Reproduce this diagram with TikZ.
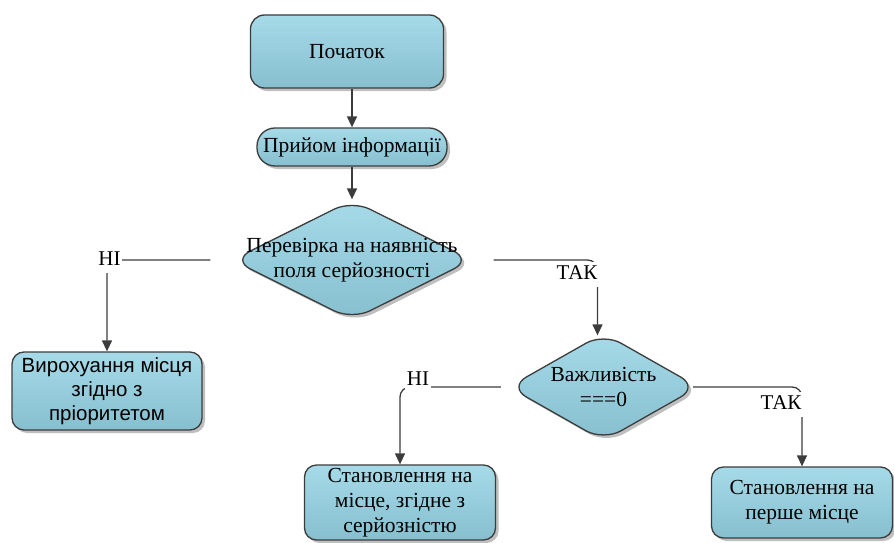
\documentclass[tikz,border=0pt]{standalone}
\usepackage{fontspec}
\setmainfont{Liberation Serif}
\newfontfamily\sansf{Liberation Sans}
\usetikzlibrary{shapes.geometric,shadows,arrows.meta}
\definecolor{boxtop}{HTML}{A6DAE8}
\definecolor{boxbot}{HTML}{86BFCF}
\definecolor{edgec}{HTML}{3C3C3C}
\begin{document}
\begin{tikzpicture}[x=1pt,y=-1pt,
 base/.style={draw=edgec, line width=1.3pt, top color=boxtop, bottom color=boxbot,
   drop shadow={shadow xshift=3pt, shadow yshift=-3pt, fill=black, opacity=0.25}, inner sep=0pt},
 box/.style={base, rectangle, rounded corners=14pt, align=center, font=\rmfamily\fontsize{21.5}{25}\selectfont},
 dia/.style={base, diamond, rounded corners=20pt},
 txt/.style={align=center, font=\rmfamily\fontsize{21.5}{25.5}\selectfont},
 lbl/.style={fill=white, inner xsep=1.5pt, inner ysep=2pt, text height=15pt, text depth=6pt, anchor=base, font=\rmfamily\fontsize{21}{22}\selectfont},
 conn/.style={draw=edgec, line width=1.3pt, rounded corners=10pt},
 arr/.style={conn, -{Triangle[length=11pt,width=10pt]}},
]
\useasboundingbox (0,0) rectangle (894,543);

% boxes
\node[box, minimum width=193pt, minimum height=73pt] (start) at (347,51.5) {Початок};
\node[box, rounded corners=18pt, minimum width=190pt, minimum height=38pt] (recv) at (352,147) {Прийом інформації};
\node[dia, minimum width=240pt, minimum height=120pt] (d1) at (352,260) {};
\node[txt] (d1t) at (d1.center) {Перевірка на наявність\\поля серйозності};
\node[box, rounded corners=12pt, minimum width=190pt, minimum height=78pt, font=\sansf\fontsize{20.5}{24}\selectfont] (b1) at (107,391) {Вирохуання місця\\згідно з\\пріоритетом};
\node[dia, minimum width=190pt, minimum height=108pt] (d2) at (603.5,387) {};
\node[txt] (d2t) at (d2.center) {Важливість\\===0};
\node[box, rounded corners=12pt, minimum width=191pt, minimum height=75pt] (b2) at (400,502.5) {Становлення на\\місце, згідне з\\серйозністю};
\node[box, rounded corners=12pt, minimum width=181pt, minimum height=71pt] (b3) at (802,502.5) {Становлення на\\перше місце};
\coordinate (d2n) at ([xshift=-6pt,yshift=-3pt]d2.north);

% connectors
\draw[arr] (recv.north |- start.south) -- (recv.north);
\draw[arr] (recv.south) -- (d1.north);
\draw[arr] ([xshift=-21pt]d1.west) -- (d1.west -| b1.north) -- (b1.north);
\draw[arr] ([xshift=21pt]d1.east) -- (d1.east -| d2n) -- (d2n);
\draw[arr] ([xshift=-7pt]d2.west) -- (d2.west -| b2.north) -- (b2.north);
\draw[arr] ([xshift=-6pt]d2.east) -- (d2.east -| b3.north) -- (b3.north);

% labels
\node[lbl] (no1) at (109.5,265) {НІ};
\node[lbl] (yes1) at (577,279) {ТАК};
\node[lbl] (no2) at (418,385) {НІ};
\node[lbl] (yes2) at (781,409) {ТАК};
\end{tikzpicture}
\end{document}
